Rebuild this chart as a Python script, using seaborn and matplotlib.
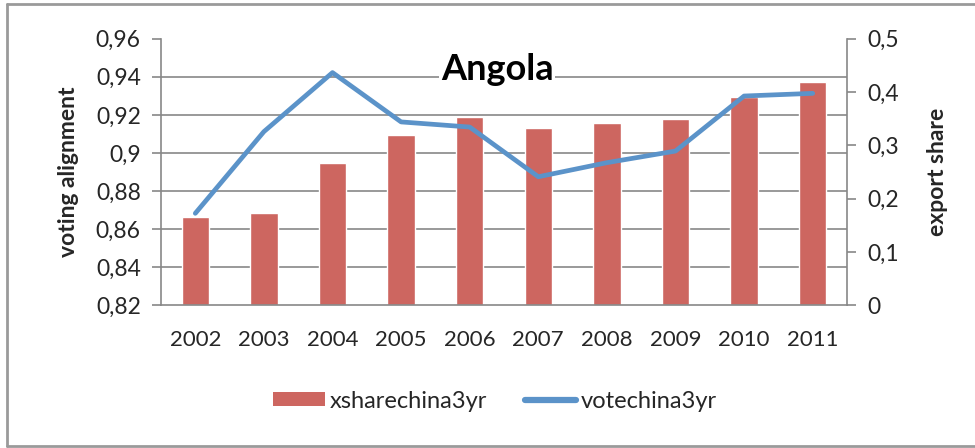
import matplotlib
matplotlib.use("Agg")
import matplotlib.pyplot as plt
import matplotlib.ticker as mticker
from matplotlib.lines import Line2D
from matplotlib.patches import Patch
import numpy as np
import pandas as pd
import seaborn as sns

# ---------------------------------------------------------------------------
# Data
# ---------------------------------------------------------------------------
years = ["2002", "2003", "2004", "2005", "2006", "2007", "2008", "2009", "2010", "2011"]
xsharechina3yr = [0.166, 0.173, 0.266, 0.320, 0.354, 0.333, 0.342, 0.350, 0.391, 0.418]
votechina3yr = [0.8683, 0.9112, 0.9422, 0.9163, 0.9136, 0.8875, 0.8949, 0.9010, 0.9299, 0.9313]

vote_ticks = [0.82, 0.84, 0.86, 0.88, 0.90, 0.92, 0.94, 0.96]
share_ticks = [0, 0.1, 0.2, 0.3, 0.4, 0.5]

BAR_COLOR = "#CD6660"
LINE_COLOR = "#5B93C9"
GRID_COLOR = "#878787"
FONT = ["Lato", "DejaVu Sans"]


def comma_fmt(v, pos):
    return f"{v:g}".replace(".", ",")


df = pd.DataFrame({"year": years, "xshare": xsharechina3yr, "vote": votechina3yr})

sns.set_theme(style="white")
plt.rcParams["font.family"] = FONT

fig = plt.figure(figsize=(9.75, 4.48), dpi=100)
ax = fig.add_axes([161 / 975, 1 - 305.3 / 448, (847 - 161) / 975, (305.3 - 38.7) / 448])
ax2 = ax.twinx()

# bars on the right (export share) axis, kept underneath the line axis
sns.barplot(data=df, x="year", y="xshare", color=BAR_COLOR, width=0.4,
            saturation=1, ax=ax2, zorder=2)
ax2.set_ylim(0, 0.5)
ax2.set_yticks(share_ticks)
ax2.yaxis.set_major_formatter(mticker.FuncFormatter(comma_fmt))
ax2.set_ylabel("export share", fontsize=16.5, fontweight="bold", labelpad=20)

# gridlines drawn on the bar axis at the left-axis tick positions
grid_pos = [(t - vote_ticks[0]) / (vote_ticks[-1] - vote_ticks[0]) * 0.5 for t in vote_ticks]
ax2.yaxis.set_minor_locator(mticker.FixedLocator(grid_pos))
ax2.grid(True, which="minor", axis="y", color=GRID_COLOR, linewidth=1.2, zorder=0)
ax2.grid(False, which="major")
ax2.tick_params(axis="y", which="minor", length=0)
ax2.set_axisbelow(True)

# line on the left (voting alignment) axis
sns.lineplot(data=df, x="year", y="vote", color=LINE_COLOR, linewidth=3.4,
             ax=ax, sort=False)
ax.set_zorder(ax2.get_zorder() + 1)
ax.patch.set_visible(False)
ax.set_ylim(0.82, 0.96)
ax.set_yticks(vote_ticks)
ax.yaxis.set_major_formatter(mticker.FuncFormatter(comma_fmt))
ax.set_ylabel("voting alignment", fontsize=16.5, fontweight="bold", labelpad=12)
ax.set_xlabel("")
ax2.set_xlabel("")
ax.set_xlim(-0.5, len(years) - 0.5)
ax.grid(False)

# x ticks between categories, Excel style
ax.xaxis.set_minor_locator(mticker.FixedLocator(np.arange(-0.5, len(years), 1)))
ax.tick_params(axis="x", which="major", length=0, pad=18, labelsize=16)
ax.tick_params(axis="x", which="minor", length=6.5, width=1.2, color=GRID_COLOR, direction="out")
ax.tick_params(axis="y", which="major", length=6.5, width=1.2, color=GRID_COLOR,
               direction="out", labelsize=16.5, pad=8)
ax2.tick_params(axis="y", which="major", length=6.5, width=1.2, color=GRID_COLOR,
                direction="out", labelsize=16.5, pad=8, right=True)

for a in (ax, ax2):
    a.spines["top"].set_visible(False)
    for side in ("left", "right", "bottom"):
        a.spines[side].set_color(GRID_COLOR)
        a.spines[side].set_linewidth(1.2)
ax.spines["right"].set_visible(False)
ax2.spines["left"].set_visible(False)
ax2.spines["bottom"].set_visible(False)

ax.text(0.49, 0.885, "Angola", transform=ax.transAxes, ha="center", va="center",
        fontsize=26, fontweight="bold", color="black",
        bbox=dict(facecolor="white", edgecolor="none", pad=1), zorder=10)

handles = [Patch(facecolor=BAR_COLOR, edgecolor="none"),
           Line2D([0], [0], color=LINE_COLOR, linewidth=4.5)]
fig.legend(handles, ["xsharechina3yr", "votechina3yr"], loc="center",
           bbox_to_anchor=(495 / 975, 1 - 401 / 448), ncol=2, frameon=False,
           fontsize=17, handlelength=2.2, handleheight=0.5, handletextpad=0.2,
           columnspacing=1.6)

# outer chart border
border = dict(color="#9a9a9a", linewidth=2, transform=fig.transFigure)
fig.add_artist(Line2D([7 / 975, 7 / 975], [1 - 446 / 448, 1 - 4.5 / 448], **border))
fig.add_artist(Line2D([7 / 975, 1], [1 - 4.5 / 448, 1 - 4.5 / 448], **border))
fig.add_artist(Line2D([7 / 975, 1], [1 - 446 / 448, 1 - 446 / 448], **border))

fig.savefig("out.png", dpi=100, facecolor="white")
